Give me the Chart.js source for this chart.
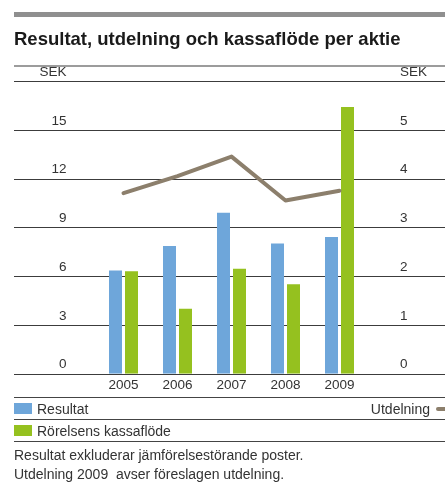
<!DOCTYPE html>
<html>
<head>
<meta charset="utf-8">
<script src="https://cdn.jsdelivr.net/npm/chart.js@4"></script>
<style>
  html, body { margin: 0; padding: 0; background: #fff; }
  #wrap { position: relative; width: 445px; height: 483px; overflow: hidden; font-family: "Liberation Sans", Arial, sans-serif; color: #333; }
  #c { position: absolute; left: 0; top: 0; }
  .abs { position: absolute; white-space: pre; }
  #topbar { left: 14px; right: 0; top: 12px; height: 5px; background: #8f8f8f; }
  #title { left: 14px; top: 28px; font-weight: bold; font-size: 18.5px; line-height: 22px; color: #1a1a1a; }
  #tline { left: 14px; right: 0; top: 65px; height: 2px; background: #9c9c9c; }
  .hl { left: 14px; right: 0; height: 1px; background: #444; }
  .sw { width: 18px; height: 11px; }
  .lt { font-size: 14px; line-height: 18px; color: #333; }
</style>
</head>
<body>
<div id="wrap">
  <canvas id="c" width="445" height="483"></canvas>
  <div class="abs" id="topbar"></div>
  <div class="abs" id="title"></div>
  <div class="abs" id="tline"></div>
  <div class="abs hl" style="top:397px"></div>
  <div class="abs hl" style="top:419px"></div>
  <div class="abs hl" style="top:441px"></div>
  <div class="abs sw" id="sw1" style="left:14px; top:403px;"></div>
  <div class="abs lt" id="lg1" style="left:37px; top:400px;"></div>
  <div class="abs sw" id="sw2" style="left:14px; top:425px;"></div>
  <div class="abs lt" id="lg2" style="left:37px; top:422px;"></div>
  <div class="abs lt" id="lg3" style="right:15px; top:400px;"></div>
  <div class="abs" id="dash" style="left:436px; top:407px; width:14px; height:4px; border-radius:2px;"></div>
  <div class="abs lt" id="fn1" style="left:14px; top:446px;"></div>
  <div class="abs lt" id="fn2" style="left:14px; top:465px;"></div>
</div>
<script>
// ---- data ----
const categories = ["2005", "2006", "2007", "2008", "2009"];
const resultat = [6.35, 7.85, 9.9, 8.0, 8.4];
const kassaflode = [6.3, 4.0, 6.45, 5.5, 16.4];
const utdelning = [3.7, 4.05, 4.45, 3.55, 3.75];
const leftTicks = [0, 3, 6, 9, 12, 15];
const rightTicks = [0, 1, 2, 3, 4, 5];
const unitLabel = "SEK";
const seriesNames = ["Resultat", "Rörelsens kassaflöde", "Utdelning"];
const titleText = "Resultat, utdelning och kassaflöde per aktie";
const footnotes = ["Resultat exkluderar jämförelsestörande poster.", "Utdelning 2009  avser föreslagen utdelning."];

// ---- styles ----
const blue = "#6ea6da";
const green = "#95c11f";
const brown = "#8c7f6c";

document.getElementById("title").textContent = titleText;
document.getElementById("lg1").textContent = seriesNames[0];
document.getElementById("lg2").textContent = seriesNames[1];
document.getElementById("lg3").textContent = seriesNames[2];
document.getElementById("sw1").style.background = blue;
document.getElementById("sw2").style.background = green;
document.getElementById("dash").style.background = brown;
document.getElementById("fn1").textContent = footnotes[0];
document.getElementById("fn2").textContent = footnotes[1];

const gridPlugin = {
  id: "fullGrid",
  beforeDatasetsDraw(chart) {
    const ctx = chart.ctx;
    const y = chart.scales.y;
    ctx.save();
    ctx.strokeStyle = "#3c3c3c";
    ctx.lineWidth = 1;
    y.ticks.forEach(t => {
      const py = Math.round(y.getPixelForValue(t.value)) + 0.5;
      ctx.beginPath();
      ctx.moveTo(14, py);
      ctx.lineTo(chart.width, py);
      ctx.stroke();
    });
    ctx.restore();
  }
};

const tickFont = { family: "Liberation Sans, Arial, sans-serif", size: 13.5 };

new Chart(document.getElementById("c"), {
  data: {
    labels: categories,
    datasets: [
      { type: "line", label: seriesNames[2], data: utdelning, yAxisID: "y1", borderColor: brown, borderWidth: 4, pointRadius: 0, tension: 0, borderCapStyle: "round", borderJoinStyle: "round", order: 0 },
      { type: "bar", label: seriesNames[0], data: resultat, yAxisID: "y", backgroundColor: blue, categoryPercentage: 0.5926, barPercentage: 0.8125, order: 1 },
      { type: "bar", label: seriesNames[1], data: kassaflode, yAxisID: "y", backgroundColor: green, categoryPercentage: 0.5926, barPercentage: 0.8125, order: 1 }
    ]
  },
  options: {
    responsive: false,
    animation: false,
    layout: { padding: { top: 81, bottom: 89.3, left: 0, right: 0 } },
    plugins: { legend: { display: false }, tooltip: { enabled: false } },
    scales: {
      x: {
        grid: { display: false, tickLength: 0, drawTicks: false },
        border: { display: false },
        ticks: { color: "#333", font: tickFont, padding: 3.5, maxRotation: 0 },
        afterFit(s) { s.height = 20; }
      },
      y: {
        position: "left",
        min: 0, max: 18,
        grid: { display: false, tickLength: 0, drawTicks: false },
        border: { display: false },
        afterBuildTicks(s) { s.ticks = leftTicks.concat([18]).map(v => ({ value: v })); },
        ticks: { color: "#333", font: tickFont, padding: 30, labelOffset: -9,
          callback: v => v === 18 ? unitLabel : String(v) },
        afterFit(s) { s.width = 96.5; }
      },
      y1: {
        position: "right",
        min: 0, max: 6,
        grid: { display: false, tickLength: 0, drawTicks: false },
        border: { display: false },
        afterBuildTicks(s) { s.ticks = rightTicks.concat([6]).map(v => ({ value: v })); },
        ticks: { color: "#333", font: tickFont, padding: 33.5, labelOffset: -9,
          callback: v => v === 6 ? unitLabel : String(v) },
        afterFit(s) { s.width = 78.5; }
      }
    }
  },
  plugins: [gridPlugin]
});
</script>
</body>
</html>
